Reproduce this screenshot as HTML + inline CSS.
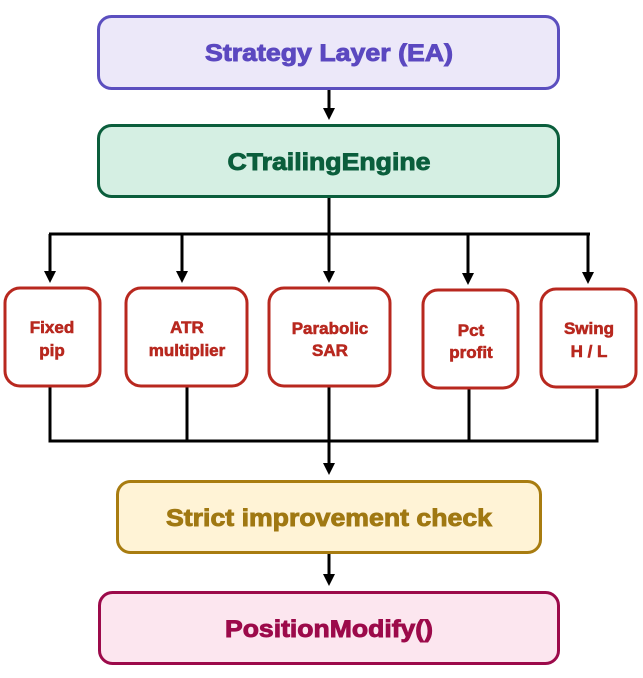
<!DOCTYPE html>
<html><head><meta charset="utf-8"><style>
html,body{margin:0;padding:0;background:#fff;}
svg{display:block;}
text{font-family:"Liberation Sans",Arial,sans-serif;font-weight:bold;text-anchor:middle;}
</style></head><body>
<svg width="643" height="678" viewBox="0 0 643 678" xmlns="http://www.w3.org/2000/svg">
<defs>
<marker id="a" markerWidth="12" markerHeight="12" refX="6" refY="6" orient="auto" markerUnits="userSpaceOnUse">
<path d="M0,0 L12,6 L0,12 z" fill="#000"/>
</marker>
</defs>
<g stroke="#000" stroke-width="3" fill="none">
<line x1="329" y1="88" x2="329" y2="114" marker-end="url(#a)"/>
<line x1="329" y1="197" x2="329" y2="234"/>
<line x1="49" y1="234" x2="590" y2="234"/>
<line x1="50" y1="234" x2="50" y2="277" marker-end="url(#a)"/>
<line x1="182" y1="234" x2="182" y2="277" marker-end="url(#a)"/>
<line x1="329" y1="234" x2="329" y2="277" marker-end="url(#a)"/>
<line x1="468" y1="234" x2="468" y2="279" marker-end="url(#a)"/>
<line x1="588" y1="234" x2="588" y2="278" marker-end="url(#a)"/>
<polyline points="50,387 50,441 597,441 597,389"/>
<line x1="187" y1="387" x2="187" y2="441"/>
<line x1="469" y1="389" x2="469" y2="441"/>
<line x1="329" y1="387" x2="329" y2="469" marker-end="url(#a)"/>
<line x1="329" y1="553" x2="329" y2="580" marker-end="url(#a)"/>
</g>
<rect x="98.5" y="16.5" width="460" height="72" rx="13" fill="#ece8f9" stroke="#5b4fbf" stroke-width="3"/>
<text x="329" y="61" font-size="24" fill="#5b48c0" stroke="#5b48c0" stroke-width="0.9" textLength="248" lengthAdjust="spacingAndGlyphs">Strategy Layer (EA)</text>
<rect x="98.5" y="125.5" width="460" height="71" rx="13" fill="#d5efe3" stroke="#0b5e3c" stroke-width="3"/>
<text x="329" y="170" font-size="24" fill="#0b5e3c" stroke="#0b5e3c" stroke-width="0.9" textLength="203" lengthAdjust="spacingAndGlyphs">CTrailingEngine</text>
<g fill="#fff" stroke="#b8281f" stroke-width="3">
<rect x="5" y="288" width="95" height="98" rx="15"/>
<rect x="126" y="288" width="121" height="98" rx="15"/>
<rect x="269" y="288" width="121" height="98" rx="15"/>
<rect x="423" y="290" width="95" height="98" rx="15"/>
<rect x="541" y="289" width="95" height="98" rx="15"/>
</g>
<g font-size="17" fill="#b8281f" stroke="#b8281f" stroke-width="0.6">
<text x="52" y="333">Fixed</text><text x="52" y="356">pip</text>
<text x="187" y="333">ATR</text><text x="187" y="356">multiplier</text>
<text x="330" y="334">Parabolic</text><text x="330" y="356">SAR</text>
<text x="471" y="336">Pct</text><text x="471" y="358">profit</text>
<text x="589" y="334">Swing</text><text x="589" y="357">H / L</text>
</g>
<rect x="117.5" y="481.5" width="423" height="71" rx="13" fill="#fff3d6" stroke="#a87c10" stroke-width="3"/>
<text x="329" y="526" font-size="24" fill="#a07812" stroke="#a07812" stroke-width="0.9" textLength="326" lengthAdjust="spacingAndGlyphs">Strict improvement check</text>
<rect x="99.5" y="592.5" width="459" height="71" rx="13" fill="#fce6ef" stroke="#9c0a4a" stroke-width="3"/>
<text x="329" y="637" font-size="24" fill="#9c0a4a" stroke="#9c0a4a" stroke-width="0.9" textLength="208" lengthAdjust="spacingAndGlyphs">PositionModify()</text>
</svg>
</body></html>
